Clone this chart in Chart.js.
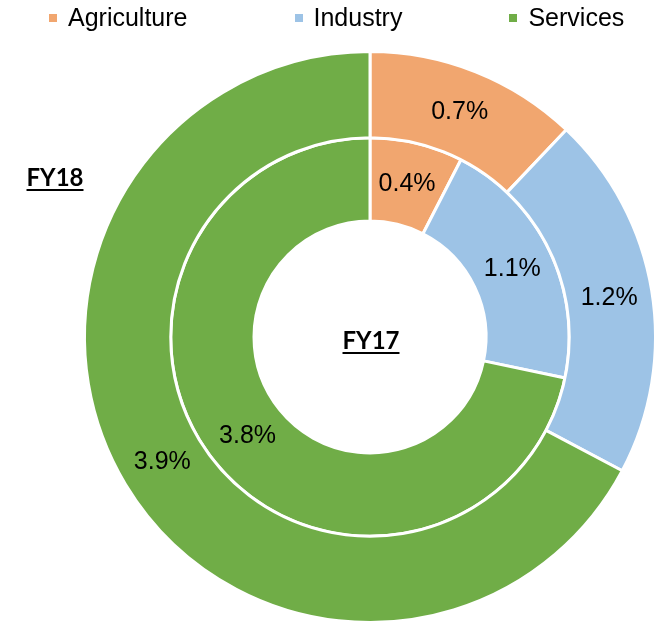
<!DOCTYPE html>
<html>
<head>
<meta charset="utf-8">
<script src="https://cdn.jsdelivr.net/npm/chart.js@4/dist/chart.umd.min.js"></script>
<style>
    html, body { margin: 0; padding: 0; overflow: hidden; background: #fff; }
    #wrap { position: relative; width: 657px; height: 630px; }
    #legend {
        position: absolute; left: 49px; top: 3px;
        display: flex; gap: 107px;
        font-family: "Liberation Sans", Arial, sans-serif; font-size: 25px; color: #000;
    }
    .item { display: flex; align-items: center; }
    .box { width: 8px; height: 8px; margin-right: 11px; }
</style>
</head>
<body>
<div id="wrap">
    <canvas id="chart"></canvas>
    <div id="legend"></div>
</div>
<script>
const sectors = ["Agriculture", "Industry", "Services"];
const fy18 = [0.7, 1.2, 3.9];
const fy17 = [0.4, 1.1, 3.8];
const colors = ["#F1A66F", "#9DC3E6", "#70AD47"];

// html legend
const legend = document.getElementById("legend");
sectors.forEach(function (name, i) {
    const item = document.createElement("div");
    item.className = "item";
    item.innerHTML = '<span class="box" style="background:' + colors[i] + '"></span><span>' + name + '</span>';
    legend.appendChild(item);
});

// percentages on arcs + FY captions
const labelPlugin = {
    id: "arcLabels",
    afterDatasetsDraw(chart) {
        const ctx = chart.ctx;
        ctx.save();
        ctx.fillStyle = "#000";
        ctx.font = "25px 'Liberation Sans', Arial, sans-serif";
        ctx.textAlign = "center";
        ctx.textBaseline = "middle";
        chart.data.datasets.forEach(function (ds, di) {
            chart.getDatasetMeta(di).data.forEach(function (arc, i) {
                const p = arc.tooltipPosition();
                ctx.fillText(ds.data[i].toFixed(1) + "%", p.x, p.y);
            });
        });

        const arc0 = chart.getDatasetMeta(0).data[0];
        const cx = arc0.x, cy = arc0.y;
        ctx.font = "bold 24px Lato, 'Noto Sans', sans-serif";
        ctx.textBaseline = "alphabetic";
        function caption(text, x, y) {
            const w = ctx.measureText(text).width;
            ctx.fillText(text, x, y);
            ctx.fillRect(x - w / 2, y + 3, w, 2);
        }
        caption("FY17", cx + 1, cy + 12);
        caption("FY18", cx - 315, cy - 151);
        ctx.restore();
    }
};

new Chart(document.getElementById("chart"), {
    type: "doughnut",
    data: {
        labels: sectors,
        datasets: [
            { label: "FY18", data: fy18, backgroundColor: colors, borderColor: "#fff", borderWidth: 3, weight: 86 },
            { label: "FY17", data: fy17, backgroundColor: colors, borderColor: "#fff", borderWidth: 3, weight: 83 }
        ]
    },
    options: {
        responsive: true,
        maintainAspectRatio: false,
        animation: false,
        cutout: 116,
        layout: { padding: { left: 83, right: 0, top: 50, bottom: 6 } },
        plugins: {
            legend: { display: false },
            tooltip: { enabled: false }
        }
    },
    plugins: [labelPlugin]
});
</script>
</body>
</html>
